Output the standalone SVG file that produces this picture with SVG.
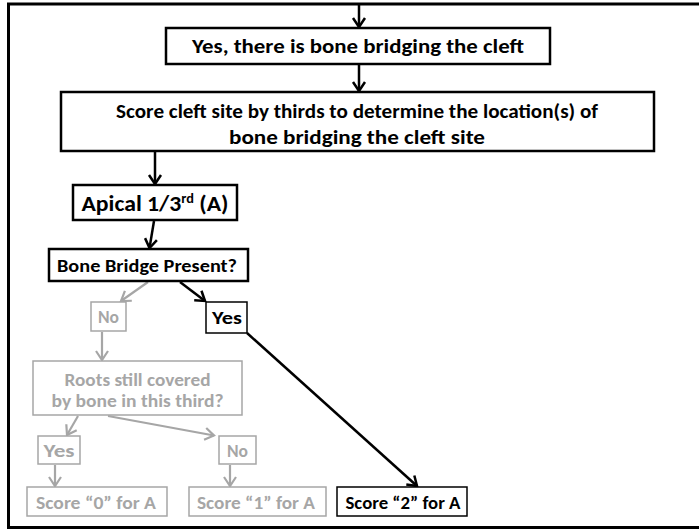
<svg xmlns="http://www.w3.org/2000/svg" width="699" height="529" viewBox="0 0 699 529">
  <style>
    .box { fill: #ffffff; stroke: #000000; stroke-width: 2.5; }
    .box-thin { fill: #ffffff; stroke: #000000; stroke-width: 1.5; }
    .box-grey { fill: #ffffff; stroke: #a6a6a6; stroke-width: 1.5; }
    .t { font-family: Carlito, Lato, "Liberation Sans", sans-serif; font-weight: bold; fill: #000000; text-anchor: middle; }
    .t-grey { font-family: Carlito, Lato, "Liberation Sans", sans-serif; font-weight: bold; fill: #a6a6a6; text-anchor: middle; }
    .link { fill: none; stroke: #000000; stroke-width: 2.5; marker-end: url(#arrow-black); }
    .link-grey { fill: none; stroke: #a6a6a6; stroke-width: 2.2; marker-end: url(#arrow-grey); }
  </style>
  <defs>
    <marker id="arrow-black" markerUnits="userSpaceOnUse" markerWidth="16" markerHeight="16" viewBox="-12 -8 14 16" refX="0" refY="0" orient="auto">
      <path d="M -9 -6 L 0 0 L -9 6" fill="none" stroke="#000000" stroke-width="2.5" stroke-linejoin="miter"/>
    </marker>
    <marker id="arrow-grey" markerUnits="userSpaceOnUse" markerWidth="16" markerHeight="16" viewBox="-12 -8 14 16" refX="0" refY="0" orient="auto">
      <path d="M -9 -6 L 0 0 L -9 6" fill="none" stroke="#a6a6a6" stroke-width="2.2" stroke-linejoin="miter"/>
    </marker>
  </defs>

  <!-- outer frame -->
  <rect x="8.5" y="4" width="692" height="523.5" fill="#ffffff" stroke="#000000" stroke-width="3"/>

  <g id="connectors">
    <line class="link" x1="359" y1="4" x2="359" y2="27"/>
    <line class="link" x1="359" y1="65" x2="359" y2="91"/>
    <line class="link" x1="155" y1="152" x2="155" y2="184"/>
    <line class="link" x1="154" y1="221" x2="149.5" y2="248"/>
    <line class="link" x1="180" y1="282" x2="205" y2="301"/>
    <line class="link" x1="247" y1="333" x2="417" y2="486"/>
    <line class="link-grey" x1="148" y1="282" x2="121" y2="301"/>
    <line class="link-grey" x1="102" y1="332" x2="102" y2="360"/>
    <line class="link-grey" x1="78" y1="416" x2="67" y2="435"/>
    <line class="link-grey" x1="108" y1="416" x2="214" y2="435.5"/>
    <line class="link-grey" x1="55" y1="465" x2="55" y2="486"/>
    <line class="link-grey" x1="230" y1="465" x2="230" y2="486"/>
  </g>

  <g id="bone-bridging">
    <rect class="box" x="166" y="28" width="384" height="36"/>
    <text class="t" x="358" y="53" font-size="20" textLength="332" lengthAdjust="spacingAndGlyphs">Yes, there is bone bridging the cleft</text>
  </g>

  <g id="score-thirds">
    <rect class="box" x="61" y="92" width="593" height="59"/>
    <text class="t" x="357" y="118" font-size="20" textLength="482" lengthAdjust="spacingAndGlyphs">Score cleft site by thirds to determine the location(s) of</text>
    <text class="t" x="357" y="144" font-size="20" textLength="256" lengthAdjust="spacingAndGlyphs">bone bridging the cleft site</text>
  </g>

  <g id="apical">
    <rect class="box" x="73" y="185" width="164" height="35"/>
    <text class="t" x="155" y="211" font-size="21.5" textLength="147" lengthAdjust="spacingAndGlyphs">Apical 1/3<tspan font-size="13" dy="-8">rd</tspan><tspan dy="8"> (A)</tspan></text>
  </g>

  <g id="bridge-present">
    <rect class="box" x="49" y="249" width="199" height="32" stroke-width="3"/>
    <text class="t" x="147" y="272" font-size="18" textLength="180" lengthAdjust="spacingAndGlyphs">Bone Bridge Present?</text>
  </g>

  <g id="yes-bridge">
    <rect class="box-thin" x="206" y="302" width="41" height="31"/>
    <text class="t" x="227" y="324" font-size="17" textLength="30" lengthAdjust="spacingAndGlyphs">Yes</text>
  </g>

  <g id="no-bridge">
    <rect class="box-grey" x="91" y="302" width="35" height="29"/>
    <text class="t-grey" x="108.5" y="323" font-size="17" textLength="21" lengthAdjust="spacingAndGlyphs">No</text>
  </g>

  <g id="roots-covered">
    <rect class="box-grey" x="33" y="361" width="209" height="54"/>
    <text class="t-grey" x="137.5" y="386" font-size="18" textLength="146" lengthAdjust="spacingAndGlyphs">Roots still covered</text>
    <text class="t-grey" x="137.5" y="407" font-size="18" textLength="172" lengthAdjust="spacingAndGlyphs">by bone in this third?</text>
  </g>

  <g id="yes-roots">
    <rect class="box-grey" x="38" y="436" width="42" height="28"/>
    <text class="t-grey" x="59" y="457" font-size="17" textLength="31" lengthAdjust="spacingAndGlyphs">Yes</text>
  </g>

  <g id="no-roots">
    <rect class="box-grey" x="219" y="436" width="37" height="28"/>
    <text class="t-grey" x="237.5" y="457" font-size="17" textLength="21" lengthAdjust="spacingAndGlyphs">No</text>
  </g>

  <g id="score-0">
    <rect class="box-grey" x="27" y="487" width="140" height="29"/>
    <text class="t-grey" x="96" y="509" font-size="18" textLength="120" lengthAdjust="spacingAndGlyphs">Score “0” for A</text>
  </g>

  <g id="score-1">
    <rect class="box-grey" x="189" y="487" width="137" height="29"/>
    <text class="t-grey" x="256" y="509" font-size="18" textLength="118" lengthAdjust="spacingAndGlyphs">Score “1” for A</text>
  </g>

  <g id="score-2">
    <rect class="box-thin" x="337" y="487" width="130" height="29"/>
    <text class="t" x="403" y="509" font-size="18" textLength="115" lengthAdjust="spacingAndGlyphs">Score “2” for A</text>
  </g>
</svg>
